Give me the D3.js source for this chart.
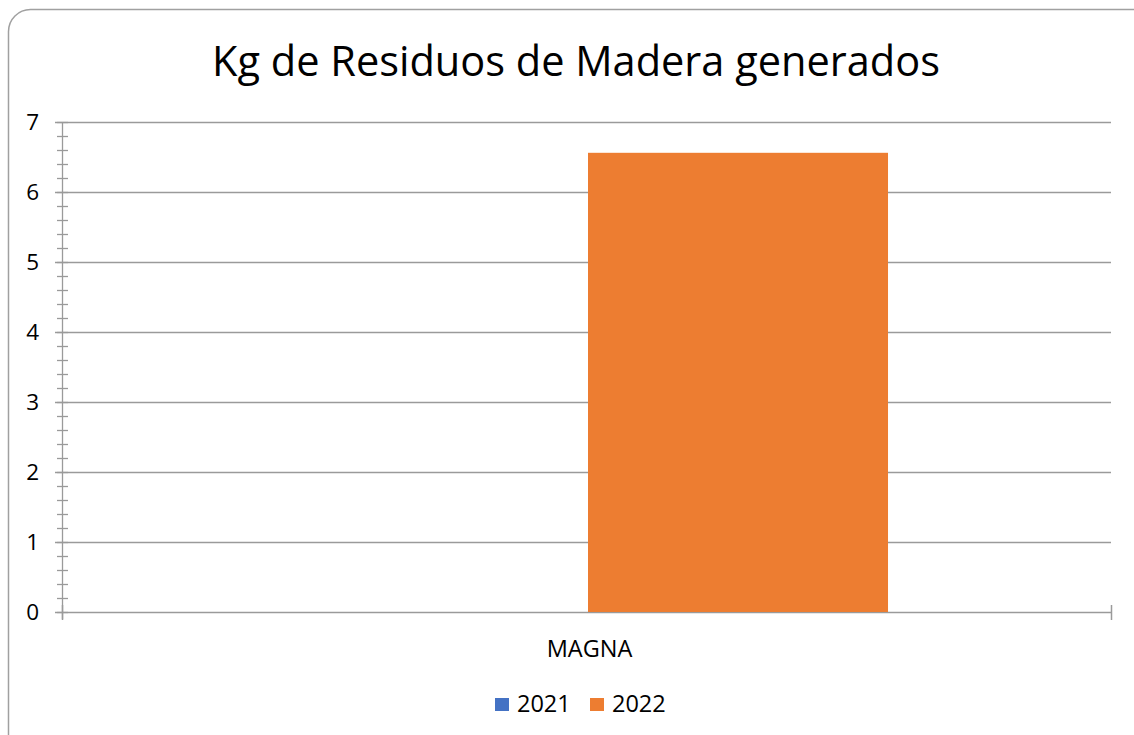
<!DOCTYPE html>
<html>
<head>
<meta charset="utf-8">
<script src="https://cdn.jsdelivr.net/npm/d3@7"></script>
<style>
  body { margin: 0; background: #fff; }
  svg { display: block; font-family: "Open Sans", sans-serif; }
</style>
</head>
<body>
<div id="chart"></div>
<script>
const categories = ["MAGNA"];
const seriesNames = ["2021", "2022"];
const values2021 = [0];
const values2022 = [6.56];
const yTicks = [0, 1, 2, 3, 4, 5, 6, 7];

const width = 1134, height = 735;
const margin = {top: 122, right: 23, bottom: 123, left: 62};
const colors = ["#4472C4", "#ED7D31"];

const svg = d3.select("#chart").append("svg")
  .attr("width", width)
  .attr("height", height);

// chart frame (rounded, clipped by the window at the right/bottom)
svg.append("rect")
  .attr("x", 8.5).attr("y", 9.5)
  .attr("width", 1150).attr("height", 760)
  .attr("rx", 22)
  .attr("fill", "none")
  .attr("stroke", "#a0a0a0")
  .attr("stroke-width", 1.5);

svg.append("text")
  .attr("x", 576).attr("y", 76)
  .attr("text-anchor", "middle")
  .attr("font-size", 41.5)
  .attr("fill", "#000")
  .text("Kg de Residuos de Madera generados");

const x = d3.scaleBand()
  .domain(categories)
  .range([margin.left, width - margin.right]);

const y = d3.scaleLinear()
  .domain([0, 7])
  .range([height - margin.bottom, margin.top]);

const data = categories.map((c, i) => ({cat: c, vals: [values2021[i], values2022[i]]}));

// gridlines
svg.append("g").selectAll("line")
  .data(yTicks)
  .enter().append("line")
  .attr("x1", margin.left - 7)
  .attr("x2", width - margin.right)
  .attr("y1", d => y(d) + 0.5)
  .attr("y2", d => y(d) + 0.5)
  .attr("stroke", "#9a9a9a")
  .attr("stroke-width", 1.3);

// bars
const gap = 0.428;
const barW = x.bandwidth() * (1 - gap) / 2;
const sub = d3.scaleBand()
  .domain(seriesNames)
  .range([0, barW * 2]);

const groups = svg.append("g").selectAll("g")
  .data(data)
  .enter().append("g")
  .attr("transform", d => "translate(" + (x(d.cat) + x.bandwidth() * gap / 2 + 1.5) + ",0)");

groups.selectAll("rect")
  .data(d => d.vals.map((v, i) => ({name: seriesNames[i], v: v, i: i})))
  .enter().append("rect")
  .attr("x", d => sub(d.name))
  .attr("width", sub.bandwidth())
  .attr("y", d => y(d.v))
  .attr("height", d => y(0) - y(d.v))
  .attr("fill", d => colors[d.i]);

// y axis line and minor ticks
svg.append("line")
  .attr("x1", margin.left + 0.5).attr("x2", margin.left + 0.5)
  .attr("y1", y(7)).attr("y2", y(0) + 7)
  .attr("stroke", "#9a9a9a").attr("stroke-width", 1.3);

const minor = d3.range(0, 7.001, 0.2);
svg.append("g").selectAll("line")
  .data(minor)
  .enter().append("line")
  .attr("x1", margin.left - 5)
  .attr("x2", margin.left + 6)
  .attr("y1", d => y(d) + 0.5)
  .attr("y2", d => y(d) + 0.5)
  .attr("stroke", "#9a9a9a")
  .attr("stroke-width", 1.3);

// y tick labels
svg.append("g").selectAll("text")
  .data(yTicks)
  .enter().append("text")
  .attr("x", 39)
  .attr("y", d => y(d) + 8)
  .attr("text-anchor", "end")
  .attr("font-size", 22.5)
  .attr("fill", "#000")
  .text(d => d);

// x axis ticks at band edges
svg.append("g").selectAll("line")
  .data([x.range()[0], x.range()[1]])
  .enter().append("line")
  .attr("x1", d => d + 0.5).attr("x2", d => d + 0.5)
  .attr("y1", y(0) - 7).attr("y2", y(0) + 8)
  .attr("stroke", "#9a9a9a").attr("stroke-width", 1.5);

svg.append("g").selectAll("text")
  .data(categories)
  .enter().append("text")
  .attr("x", d => x(d) + x.bandwidth() / 2 + 3)
  .attr("y", 657)
  .attr("text-anchor", "middle")
  .attr("font-size", 23.5)
  .attr("fill", "#000")
  .text(d => d);

// legend
const legendX = [495, 590];
const legend = svg.append("g").selectAll("g")
  .data(seriesNames)
  .enter().append("g")
  .attr("transform", (d, i) => "translate(" + legendX[i] + ",698)");

legend.append("rect")
  .attr("width", 14).attr("height", 13)
  .attr("fill", (d, i) => colors[i]);

legend.append("text")
  .attr("x", 22).attr("y", 14)
  .attr("font-size", 23.5)
  .attr("fill", "#000")
  .text(d => d);
</script>
</body>
</html>
